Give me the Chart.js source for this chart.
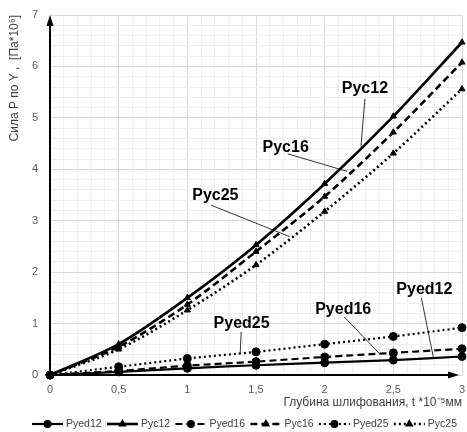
<!DOCTYPE html>
<html><head><meta charset="utf-8">
<script src="https://cdn.jsdelivr.net/npm/chart.js@4.4.1/dist/chart.umd.min.js"></script>
<style>html,body{margin:0;padding:0;overflow:hidden;background:#fff}#wrap{width:467px;height:432px;position:relative}</style>
</head><body><div id="wrap"><canvas id="c"></canvas></div>
<script>
const xValues = [0, 0.5, 1, 1.5, 2, 2.5, 3];
const pyed12 = [0, 0.06, 0.13, 0.19, 0.24, 0.29, 0.36];
const pyc12  = [0, 0.60, 1.50, 2.53, 3.72, 5.03, 6.47];
const pyed16 = [0, 0.08, 0.18, 0.26, 0.35, 0.43, 0.51];
const pyc16  = [0, 0.55, 1.37, 2.40, 3.47, 4.72, 6.08];
const pyed25 = [0, 0.16, 0.32, 0.45, 0.60, 0.75, 0.92];
const pyc25  = [0, 0.50, 1.26, 2.14, 3.18, 4.31, 5.56];
const seriesNames = ['Pyed12', 'Pyc12', 'Pyed16', 'Pyc16', 'Pyed25', 'Pyc25'];
const seriesValues = [pyed12, pyc12, pyed16, pyc16, pyed25, pyc25];
const xTickLabels = ['0', '0,5', '1', '1,5', '2', '2,5', '3'];
const yTickLabels = ['0', '1', '2', '3', '4', '5', '6', '7'];
const xTitle = 'Глубина шлифования, t *10\u207B\u2075мм';
const yTitle = 'Сила Р по Y ,  [Па*10\u2076]';

const DASH = { solid: [], dash: [7, 4], dot: [2, 3] };
const styles = [
  { dash: DASH.solid, pt: 'circle', r: 4, w: 2.2 },
  { dash: DASH.solid, pt: 'triangle', r: 3.5, w: 2.6 },
  { dash: DASH.dash, pt: 'circle', r: 4, w: 2.2 },
  { dash: DASH.dash, pt: 'triangle', r: 3.5, w: 2.6 },
  { dash: DASH.dot, pt: 'circle', r: 4, w: 2.2 },
  { dash: DASH.dot, pt: 'triangle', r: 3.5, w: 2.6 }
];

// callout labels (data coordinates)
const callouts = [
  { text: 'Pyc12', tx: 2.293, ty: 5.56, x1: 2.293, y1: 5.37, x2: 2.264, y2: 4.44 },
  { text: 'Pyc16', tx: 1.716, ty: 4.43, x1: 1.731, y1: 4.30, x2: 2.163, y2: 3.96 },
  { text: 'Pyc25', tx: 1.204, ty: 3.49, x1: 1.175, y1: 3.30, x2: 1.745, y2: 2.69 },
  { text: 'Pyed25', tx: 1.395, ty: 1.00, x1: 1.392, y1: 0.84, x2: 1.385, y2: 0.43 },
  { text: 'Pyed16', tx: 2.135, ty: 1.27, x1: 2.142, y1: 1.13, x2: 2.401, y2: 0.41 },
  { text: 'Pyed12', tx: 2.726, ty: 1.66, x1: 2.704, y1: 1.50, x2: 2.791, y2: 0.35 }
];

const datasets = seriesNames.map((n, i) => ({
  label: n,
  data: xValues.map((x, j) => ({ x: x, y: seriesValues[i][j] })),
  borderColor: '#000', backgroundColor: '#000',
  borderWidth: styles[i].w, borderDash: styles[i].dash,
  pointStyle: styles[i].pt, pointRadius: styles[i].r, pointBorderWidth: 1,
  tension: 0.3, clip: 10, fill: false
}));

function isMajor(v, step) { return Math.abs(v / step - Math.round(v / step)) < 1e-6; }

function drawMarker(ctx, style, x, y, r) {
  ctx.save(); ctx.fillStyle = '#000'; ctx.setLineDash([]);
  ctx.beginPath();
  if (style === 'circle') { ctx.arc(x, y, r, 0, Math.PI * 2); }
  else {
    const s = r * 1.4;
    ctx.moveTo(x, y - s); ctx.lineTo(x + s * 0.87, y + s * 0.5); ctx.lineTo(x - s * 0.87, y + s * 0.5); ctx.closePath();
  }
  ctx.fill(); ctx.restore();
}

const decor = {
  id: 'decor',
  beforeDatasetsDraw(chart) {
    const { ctx, chartArea: a } = chart;
    ctx.save();
    ctx.strokeStyle = '#000'; ctx.fillStyle = '#000'; ctx.lineWidth = 2;
    ctx.beginPath(); ctx.moveTo(a.left, a.bottom); ctx.lineTo(a.left, a.top + 6); ctx.stroke();
    ctx.beginPath(); ctx.moveTo(a.left, a.top); ctx.lineTo(a.left + 3.5, a.top + 11); ctx.lineTo(a.left - 3.5, a.top + 11); ctx.closePath(); ctx.fill();
    const tipX = a.right - 3;
    ctx.beginPath(); ctx.moveTo(a.left, a.bottom); ctx.lineTo(tipX - 6, a.bottom); ctx.stroke();
    ctx.beginPath(); ctx.moveTo(tipX, a.bottom); ctx.lineTo(tipX - 11, a.bottom - 3.5); ctx.lineTo(tipX - 11, a.bottom + 3.5); ctx.closePath(); ctx.fill();
    ctx.restore();
  },
  afterDraw(chart) {
    const { ctx } = chart;
    const xs = chart.scales.x, ys = chart.scales.y;
    ctx.save();
    ctx.strokeStyle = '#000'; ctx.lineWidth = 0.8; ctx.setLineDash([]);
    ctx.font = 'bold 16px "Liberation Sans", Arial, sans-serif';
    ctx.fillStyle = '#000'; ctx.textAlign = 'center'; ctx.textBaseline = 'middle';
    callouts.forEach(c => {
      ctx.beginPath();
      ctx.moveTo(xs.getPixelForValue(c.x1), ys.getPixelForValue(c.y1));
      ctx.lineTo(xs.getPixelForValue(c.x2), ys.getPixelForValue(c.y2));
      ctx.stroke();
      ctx.fillText(c.text, xs.getPixelForValue(c.tx), ys.getPixelForValue(c.ty));
    });
    // legend
    ctx.font = '10.5px "Liberation Sans", Arial, sans-serif';
    ctx.fillStyle = '#404040'; ctx.textAlign = 'left';
    const lineLen = 31, gap = 3, startX = 32, endX = 457;
    const widths = seriesNames.map(n => ctx.measureText(n).width);
    const used = widths.reduce((s, w) => s + lineLen + gap + w, 0);
    const spacing = (endX - startX - used) / (seriesNames.length - 1);
    let x = startX;
    const y = 424;
    seriesNames.forEach((n, i) => {
      const st = styles[i];
      ctx.save();
      ctx.strokeStyle = '#000'; ctx.lineWidth = st.w; ctx.setLineDash(st.dash);
      ctx.beginPath(); ctx.moveTo(x, y); ctx.lineTo(x + lineLen, y); ctx.stroke();
      ctx.restore();
      drawMarker(ctx, st.pt, x + lineLen / 2, y, st.r);
      ctx.fillText(n, x + lineLen + gap, y + 0.5);
      x += lineLen + gap + widths[i] + spacing;
    });
    ctx.restore();
  }
};

new Chart(document.getElementById('c'), {
  type: 'line',
  data: { datasets: datasets },
  options: {
    responsive: true, maintainAspectRatio: false, animation: false,
    layout: { padding: { top: 15, right: 1, bottom: 20, left: 0 } },
    plugins: { legend: { display: false }, tooltip: { enabled: false } },
    scales: {
      x: {
        type: 'linear', min: 0, max: 3,
        border: { display: false },
        grid: { drawTicks: false, color: c => isMajor(c.tick.value, 0.5) ? '#d9d9d9' : '#efefef', lineWidth: 1 },
        ticks: {
          stepSize: 0.1, autoSkip: false, maxRotation: 0, padding: 8,
          color: '#595959', font: { family: '"Liberation Sans", Arial, sans-serif', size: 11 },
          callback: v => isMajor(v, 0.5) ? xTickLabels[Math.round(v * 2)] : ''
        },
        title: { display: true, text: xTitle, align: 'end', color: '#404040',
          font: { family: '"Liberation Sans", Arial, sans-serif', size: 12 }, padding: { top: 0, bottom: 2 } },
        afterFit: s => { s.height = 37; s.paddingLeft = 0; s.paddingRight = 0; }
      },
      y: {
        type: 'linear', min: 0, max: 7,
        border: { display: false },
        grid: { drawTicks: false, color: c => isMajor(c.tick.value, 1) ? '#d9d9d9' : '#efefef', lineWidth: 1 },
        ticks: {
          stepSize: 0.2, autoSkip: false, padding: 12,
          color: '#595959', font: { family: '"Liberation Sans", Arial, sans-serif', size: 11 },
          callback: v => isMajor(v, 1) ? yTickLabels[Math.round(v)] : ''
        },
        title: { display: true, text: yTitle, align: 'end', color: '#404040',
          font: { family: '"Liberation Sans", Arial, sans-serif', size: 12 }, padding: { top: 7, bottom: 0 } },
        afterFit: s => { s.width = 50; s.paddingTop = 0; s.paddingBottom = 0; }
      }
    }
  },
  plugins: [decor]
});
</script></body></html>
